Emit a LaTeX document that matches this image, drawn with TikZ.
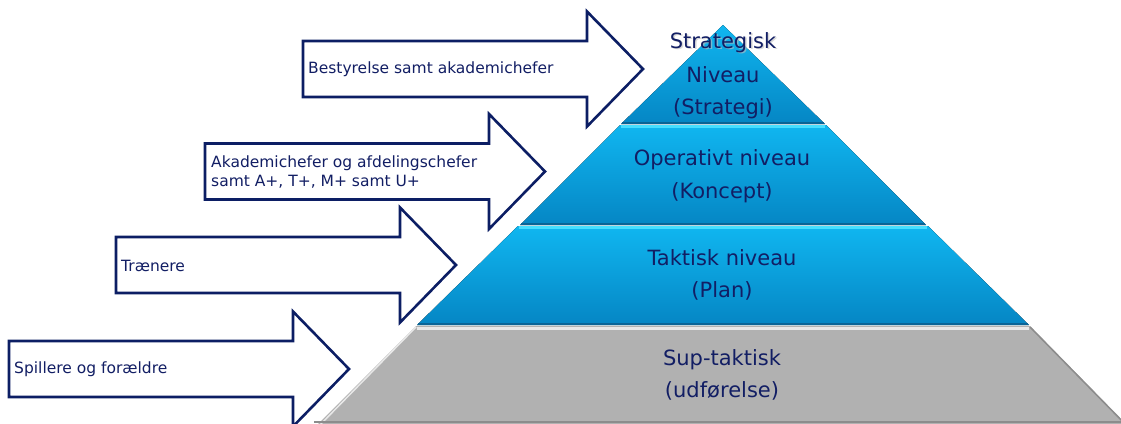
\documentclass[tikz,border=0pt]{standalone}
\usepackage{fontspec}
\setmainfont{DejaVu Sans}
\definecolor{navy}{RGB}{12,30,100}
\definecolor{txtnavy}{RGB}{18,30,100}
\definecolor{bluetop}{RGB}{16,182,240}
\definecolor{bluebot}{RGB}{5,134,196}
\definecolor{bluehi}{RGB}{70,222,255}
\definecolor{bluedark}{RGB}{10,100,150}
\definecolor{greyfill}{RGB}{177,177,177}
\definecolor{greyhi}{RGB}{232,232,232}
\definecolor{greydark}{RGB}{140,140,140}
\newcommand{\myarrow}[2]{%
  \draw[arrowbox] (#1,#2-28) -- (#1+284,#2-28) -- (#1+284,#2-57.5) -- (#1+340,#2)
    -- (#1+284,#2+57.5) -- (#1+284,#2+28) -- (#1,#2+28) -- cycle;}
\tikzset{
  arrowbox/.style={draw=navy, line width=2.6pt, fill=white, line join=miter},
  bluelayer/.style={top color=bluetop, bottom color=bluebot, draw=none},
  greylayer/.style={fill=greyfill, draw=none},
  pyrtext/.style={text=txtnavy, font=\fontsize{21}{25}\selectfont, anchor=base, inner sep=0pt},
  lbl/.style={text=txtnavy, font=\fontsize{15.5}{19}\selectfont, anchor=west, align=left, inner sep=0pt},
}
\begin{document}
\begin{tikzpicture}[x=1pt,y=-1pt]
\useasboundingbox (0,0) rectangle (1121,423);
\begin{scope}
\clip (0,0) rectangle (1121,423);
% layer 1
\fill[bluelayer] (723,25) -- (825,124) -- (621,124) -- cycle;
\draw[bluedark, line width=2pt] (622,123) -- (824,123);
% layer 2
\fill[bluelayer] (620,125) -- (826,125) -- (926,225) -- (520,225) -- cycle;
\draw[bluehi, line width=2.5pt] (621,126.5) -- (825,126.5);
\draw[bluedark, line width=2pt] (521,224) -- (925,224);
% layer 3
\fill[bluelayer] (518,226) -- (928,226) -- (1029,325) -- (417,325) -- cycle;
\draw[bluehi, line width=2.5pt] (519,227.5) -- (927,227.5);
\draw[bluedark, line width=2pt] (418,324) -- (1028,324);
% layer 4
\fill[greylayer] (416,326) -- (1030,326) -- (1130,428) -- (314,428) -- cycle;
\draw[greyhi, line width=3pt] (417,328) -- (1029,328);
\draw[greyhi, line width=1.5pt] (416,327) -- (317,428);
\draw[greydark, line width=1.5pt] (1030,327) -- (1128,427);
\draw[greydark, line width=1.5pt] (314,422) -- (1130,422);
\end{scope}
% pyramid texts
\node[pyrtext, text=gray!50, opacity=0.6] (s1shadow) at (724.5,49.5) {Strategisk};
\node[pyrtext] (s1) at (723,48) {Strategisk};
\node[pyrtext] (s2) at (723,82) {Niveau};
\node[pyrtext] (s3) at (723,114) {(Strategi)};
\node[pyrtext] (o1) at (722,165) {Operativt niveau};
\node[pyrtext] (o2) at (722,198) {(Koncept)};
\node[pyrtext] (t1) at (722,265) {Taktisk niveau};
\node[pyrtext] (t2) at (722,297) {(Plan)};
\node[pyrtext] (u1) at (722,365) {Sup-taktisk};
\node[pyrtext] (u2) at (722,397) {(udførelse)};
% arrows
\myarrow{303}{69}
\myarrow{205}{171.5}
\myarrow{116}{265}
\myarrow{9}{369}
\node[lbl] (a1) at (308,69) {Bestyrelse samt akademichefer};
\node[lbl] (a2) at (211,172) {Akademichefer og afdelingschefer\\samt A+, T+, M+ samt U+};
\node[lbl] (a3) at (121,266) {Trænere};
\node[lbl] (a4) at (14,369) {Spillere og forældre};
\end{tikzpicture}
\end{document}
